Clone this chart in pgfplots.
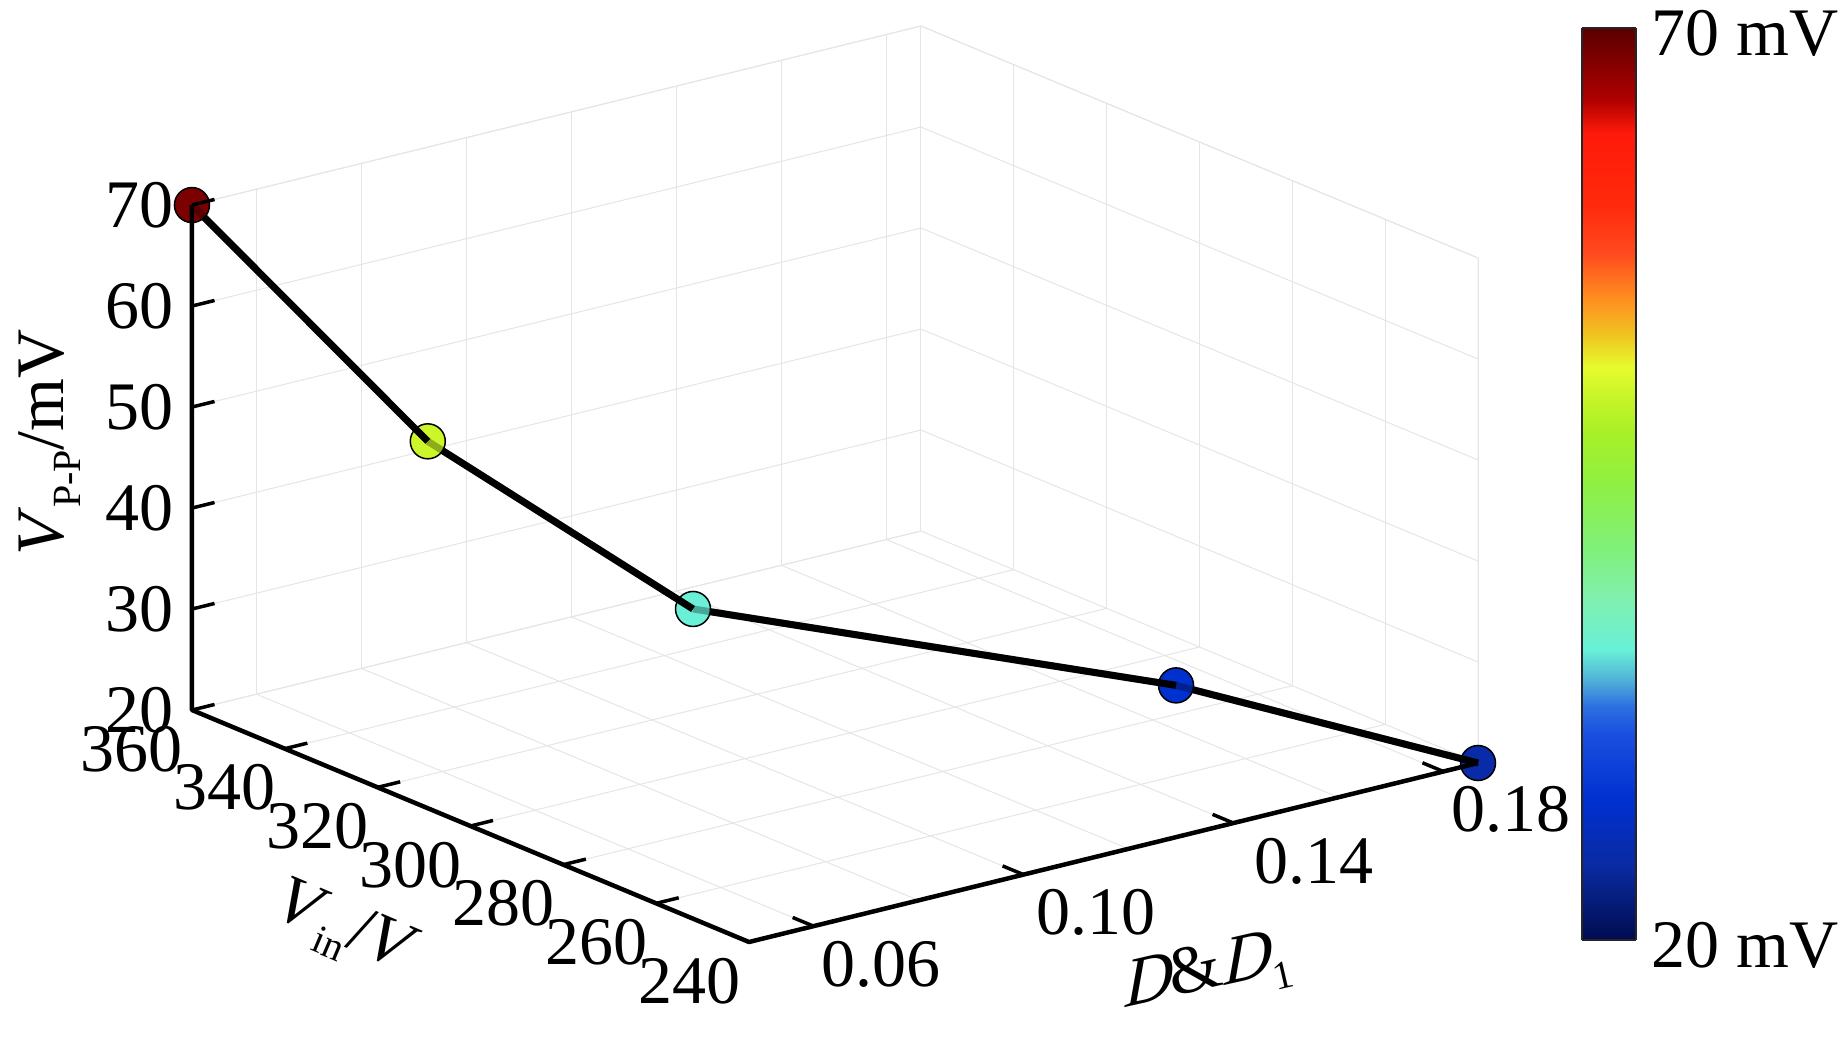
\documentclass[border=0pt]{standalone}
\usepackage{fontspec}
\setmainfont{Liberation Serif}
\newfontface\slantf{Liberation Serif Italic}[FakeSlant=0.25]
\usepackage{pgfplots}
\pgfplotsset{compat=1.18}
\newcommand{\bigf}{\fontsize{68}{72}\selectfont}
\newcommand{\subf}{\fontsize{40}{44}\selectfont}
\pgfplotsset{
  colormap={ripple}{
    rgb255(0)=(0,12,80) rgb255(80)=(10,42,160) rgb255(153)=(0,48,208)
    rgb255(227)=(26,80,224) rgb255(256)=(44,112,224) rgb255(285)=(80,176,216)
    rgb255(318)=(104,240,216) rgb255(373)=(128,240,176) rgb255(431)=(128,240,120)
    rgb255(504)=(144,240,64) rgb255(556)=(168,240,40) rgb255(592)=(196,244,40)
    rgb255(628)=(230,251,46) rgb255(666)=(240,192,32) rgb255(702)=(255,144,32)
    rgb255(753)=(255,74,30) rgb255(804)=(255,42,12) rgb255(885)=(255,26,10)
    rgb255(921)=(176,0,0) rgb255(1000)=(90,0,0)
  },
  dot/.style={forget plot, scatter, only marks, mark=*, mark size=17.5pt, point meta=explicit,
    scatter/use mapped color={draw=black, fill=mapped color},
    mark options={line width=1.5pt}},
  seg/.style={forget plot, black, line width=7pt},
  shade/.style={forget plot, black, line width=7pt, draw opacity=0.3},
  edge/.style={forget plot, draw=black!10!white, line width=1pt},
}
\begin{document}
\begin{tikzpicture}
\path[use as bounding box] (0,0) rectangle (1843pt,1049pt);
\begin{axis}[
  at={(749pt,107pt)}, anchor=origin,
  x={(5248.4pt,1288.7pt)}, y={(-4.642pt,1.933pt)}, z={(0pt,10.1pt)},
  xmin=0.0477, xmax=0.1866, ymin=240, ymax=360, zmin=20, zmax=70,
  clip=false, clip mode=individual, clip marker paths=true,
  xtick={0.06,0.10,0.14,0.18},
  xticklabels={0.06\kern12pt,0.10,\kern16pt0.14,0.18\kern10pt},
  minor xtick={0.08,0.12,0.16},
  ytick={240,260,...,360}, yticklabels={240,260,280,300,320,340,360},
  ztick={20,30,...,70}, zticklabels={20,30,40,50,60,70},
  grid=both,
  grid style={draw=black!10!white, line width=1pt},
  minor tick length=0pt,
  major tick length=0pt,
  axis line style={draw=none},
  tick label style={font=\bigf, anchor=center},
  xticklabel style={xshift=73pt, yshift=-38pt},
  yticklabel style={xshift=-60pt, yshift=-39pt},
  zticklabel style={xshift=-52pt},
  xlabel={{\slantf D}\&{\slantf D}\raisebox{-0.25em}{\subf 1}},
  ylabel={\textit{V}\raisebox{-0.25em}{\subf in}/\textit{V}},
  zlabel={\textit{V}\raisebox{-0.25em}{\subf P-P}/mV},
  label style={font=\bigf, anchor=center},
  xlabel style={at={(rel axis cs:0.5,0,0)}, rotate=13, xshift=62pt, yshift=-140pt},
  ylabel style={at={(rel axis cs:0,0.5,0)}, rotate=-23, xshift=-75pt, yshift=-146pt},
  zlabel style={at={(rel axis cs:0,1,0.5)}, xshift=15pt, yshift=142pt},
  point meta min=20, point meta max=70,
  unbounded coords=jump,
]
% light box edges
\addplot3[edge] coordinates {(0.0477,360,70) (0.1866,360,70) (0.1866,240,70) (0.1866,240,20)};
\addplot3[edge] coordinates {(0.1866,360,70) (0.1866,360,20)};

% back to front, every segment ends over the marker it runs into
\addplot3[dot] coordinates {(0.1866,240,20) [24.5]};
\addplot3[seg] coordinates {(0.1556,270,25.9) (0.1866,240,20)};
\addplot3[dot] coordinates {(0.1556,270,25.9) [27.5]};
\addplot3[shade] coordinates {(0.1556,270,25.9) (0.1866,240,20)};
\addplot3[seg] coordinates {(0.0901,300,36.08) (0.1556,270,25.9)};
\addplot3[dot] coordinates {(0.0901,300,36.08) [36]};
\addplot3[shade] coordinates {(0.0901,300,36.08) (0.1556,270,25.9)};
\addplot3[seg] coordinates {(0.0661,330,50) (0.0901,300,36.08)};
\addplot3[dot] coordinates {(0.0661,330,50) [50]};
\addplot3[shade] coordinates {(0.0661,330,50) (0.0901,300,36.08)};
\addplot3[seg] coordinates {(0.0477,360,70) (0.0661,330,50)};
\addplot3[dot] coordinates {(0.0477,360,70) [68.5]};
\addplot3[shade] coordinates {(0.0477,360,70) (0.0661,330,50)};

% the three axis lines that stay black, with their ticks
\addplot3[forget plot, black, line width=4.5pt, line join=round] coordinates
  {(0.0477,360,70) (0.0477,360,20) (0.0477,240,20) (0.1866,240,20)};
\addplot3[forget plot, black, line width=3.5pt] coordinates {
  (0.0477,360,30) (0.0520,360,30) (nan,nan,nan)
  (0.0477,360,40) (0.0520,360,40) (nan,nan,nan)
  (0.0477,360,50) (0.0520,360,50) (nan,nan,nan)
  (0.0477,360,60) (0.0520,360,60) (nan,nan,nan)
  (0.0477,360,70) (0.0520,360,70) (nan,nan,nan)
  (0.0477,360,20) (0.0520,360,20) (nan,nan,nan)
  (0.0477,340,20) (0.0520,340,20) (nan,nan,nan)
  (0.0477,320,20) (0.0520,320,20) (nan,nan,nan)
  (0.0477,300,20) (0.0520,300,20) (nan,nan,nan)
  (0.0477,280,20) (0.0520,280,20) (nan,nan,nan)
  (0.0477,260,20) (0.0520,260,20) (nan,nan,nan)
  (0.06,240,20) (0.06,244.5,20) (nan,nan,nan)
  (0.10,240,20) (0.10,244.5,20) (nan,nan,nan)
  (0.14,240,20) (0.14,244.5,20) (nan,nan,nan)
  (0.18,240,20) (0.18,244.5,20)
};
\end{axis}
% colour scale
\begin{axis}[
  at={(1582pt,109pt)}, anchor=south west,
  width=54pt, height=912pt, scale only axis,
  view={0}{90},
  xmin=0, xmax=1, ymin=20, ymax=70,
  xtick=\empty,
  ytick={20,70}, yticklabels={20 mV,70 mV},
  ytick pos=right, yticklabel pos=right,
  major tick length=0pt,
  axis line style={draw=black!85, line width=2pt},
  axis on top,
  point meta min=20, point meta max=70,
  yticklabel style={font=\bigf, anchor=west, xshift=12pt, yshift=-5pt},
]
\addplot3[surf, shader=interp, point meta=y, mesh/rows=2] coordinates {
  (0,20,0) (1,20,0)
  (0,70,0) (1,70,0)
};
\end{axis}
\end{tikzpicture}
\end{document}
